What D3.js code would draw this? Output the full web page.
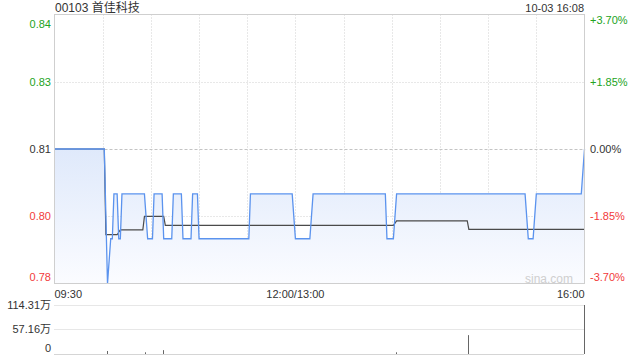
<!DOCTYPE html>
<html>
<head>
<meta charset="utf-8">
<script src="https://d3js.org/d3.v7.min.js"></script>
<style>
	body { margin: 0; background: #fff; }
	svg text { font-family: "Liberation Sans", Arial, "Noto Sans CJK SC", sans-serif; }
</style>
</head>
<body>
<svg id="chart" width="640" height="360"></svg>
<script>

// stock info
var title = "00103 首佳科技";
var stamp = "10-03 16:08";
var prevClose = 0.81;

// minutes after 09:30 (12:00 and 13:00 share minute 150) and the price there
var priceMinutes = [0, 31, 33, 35, 36, 37, 39, 40, 41, 42, 56, 58, 61, 62, 67, 68, 73, 74, 79, 80,
	85, 86, 89, 90, 121, 122, 148, 150, 159, 161, 206, 207, 211, 213, 293, 295, 298, 300, 328, 330];
var prices = [0.81, 0.81, 0.78, 0.79, 0.79, 0.80, 0.80, 0.79, 0.79, 0.80, 0.80, 0.79, 0.79, 0.80, 0.80, 0.79, 0.79, 0.80, 0.80, 0.79,
	0.79, 0.80, 0.80, 0.79, 0.79, 0.80, 0.80, 0.79, 0.79, 0.80, 0.80, 0.79, 0.79, 0.80, 0.80, 0.79, 0.79, 0.80, 0.80, 0.81];

// average price line
var avgMinutes = [0, 31, 32, 39, 41, 55, 56, 68, 69, 211, 213, 257, 258, 330];
var avgPrices = [0.81, 0.81, 0.7909, 0.7909, 0.7920, 0.7920, 0.7950, 0.7950, 0.7930, 0.7930, 0.7940, 0.7940, 0.7921, 0.7921];

// volume in 万
var volMinutes = [33, 57, 68, 213, 258, 330];
var volumes = [7, 4, 9, 4, 44, 114.31];

// axis labels
var pctTicks = [0.037, 0.0185, 0, -0.0185, -0.037];
var priceLabels = ["0.84", "0.83", "0.81", "0.80", "0.78"];
var pctLabels = ["+3.70%", "+1.85%", "0.00%", "-1.85%", "-3.70%"];
var timeTicks = [0, 150, 330];
var timeLabels = ["09:30", "12:00/13:00", "16:00"];
var volTicks = [114.31, 57.16, 0];
var volLabels = ["114.31万", "57.16万", "0"];

var svg = d3.select("#chart");
var green = "#22a322", red = "#f23a3a", dark = "#333";

var x = d3.scaleLinear().domain([0, 330]).range([54.5, 584.5]);
var y = d3.scaleLinear()
	.domain([prevClose * (1 - 0.037), prevClose * (1 + 0.037)])
	.range([283.5, 14.5]);
var yVol = d3.scaleLinear().domain([0, 114.31]).range([354, 305]);

function tickColor(p) {
	if (p > 0) return green;
	if (p < 0) return red;
	return dark;
}

// gradient for the area under the price
var grad = svg.append("defs").append("linearGradient")
	.attr("id", "fill").attr("x1", 0).attr("y1", 0).attr("x2", 0).attr("y2", 1);
grad.append("stop").attr("offset", "0%").attr("stop-color", "#dfe9fb");
grad.append("stop").attr("offset", "100%").attr("stop-color", "#fbfcff");

// grid
var grid = svg.append("g");
grid.selectAll("line.v")
	.data(d3.range(30, 330, 30))
	.enter().append("line")
		.attr("x1", function(d) {return Math.round(x(d)) + 0.5;})
		.attr("x2", function(d) {return Math.round(x(d)) + 0.5;})
		.attr("y1", 14.5).attr("y2", 283.5)
		.attr("stroke", "#d0d0d0").attr("stroke-dasharray", "1,2");
grid.selectAll("line.h")
	.data(pctTicks.slice(1, 4))
	.enter().append("line")
		.attr("x1", 54.5).attr("x2", 584.5)
		.attr("y1", function(d) {return Math.round(y(prevClose * (1 + d))) + 0.5;})
		.attr("y2", function(d) {return Math.round(y(prevClose * (1 + d))) + 0.5;})
		.attr("stroke", function(d) {return d == 0 ? "#c4c4c4" : "#d0d0d0";})
		.attr("stroke-dasharray", function(d) {return d == 0 ? "3,2" : "1,2";});

// price area and lines
var pts = priceMinutes.map(function(m, i) {return [m, prices[i]];});
svg.append("path")
	.datum(pts)
	.attr("fill", "url(#fill)")
	.attr("d", d3.area()
		.x(function(d) {return x(d[0]);})
		.y0(283.5)
		.y1(function(d) {return y(d[1]);}));

var avgPts = avgMinutes.map(function(m, i) {return [m, avgPrices[i]];});
svg.append("path")
	.datum(avgPts)
	.attr("fill", "none")
	.attr("stroke", "#4a4a4a")
	.attr("stroke-width", 1.2)
	.attr("d", d3.line().x(function(d) {return x(d[0]);}).y(function(d) {return y(d[1]);}));

svg.append("path")
	.datum(pts)
	.attr("fill", "none")
	.attr("stroke", "#5b93ee")
	.attr("stroke-width", 1.3)
	.attr("d", d3.line().x(function(d) {return x(d[0]);}).y(function(d) {return y(d[1]);}));

// frame of the price chart
svg.append("rect")
	.attr("x", 54.5).attr("y", 14.5).attr("width", 530).attr("height", 269)
	.attr("fill", "none").attr("stroke", "#cfcfcf");

svg.append("text")
	.attr("x", 573).attr("y", 283)
	.attr("text-anchor", "end")
	.attr("font-size", 12)
	.attr("fill", "#cfcfcf")
	.text("sina.com");

// left and right labels
svg.selectAll("text.price")
	.data(pctTicks)
	.enter().append("text")
		.attr("x", 51)
		.attr("y", function(d, i) {
			var yy = y(prevClose * (1 + d));
			if (i == 0) return yy + 13;
			if (i == pctTicks.length - 1) return yy - 3;
			return yy + 4;
		})
		.attr("text-anchor", "end")
		.attr("font-size", 11)
		.attr("fill", function(d) {return tickColor(d);})
		.text(function(d, i) {return priceLabels[i];});

svg.selectAll("text.pct")
	.data(pctTicks)
	.enter().append("text")
		.attr("x", 590)
		.attr("y", function(d, i) {
			var yy = y(prevClose * (1 + d));
			if (i == 0) return yy + 9;
			if (i == pctTicks.length - 1) return yy - 3;
			return yy + 4;
		})
		.attr("font-size", 11)
		.attr("fill", function(d) {return tickColor(d);})
		.text(function(d, i) {return pctLabels[i];});

// time labels
svg.selectAll("text.time")
	.data(timeTicks)
	.enter().append("text")
		.attr("x", function(d) {return x(d);})
		.attr("y", 298)
		.attr("text-anchor", function(d, i) {
			if (i == 0) return "start";
			if (i == timeTicks.length - 1) return "end";
			return "middle";
		})
		.attr("font-size", 11)
		.attr("fill", dark)
		.text(function(d, i) {return timeLabels[i];});

// title and time stamp
svg.append("text")
	.attr("x", 55).attr("y", 12)
	.attr("font-size", 12)
	.attr("fill", dark)
	.text(title);
svg.append("text")
	.attr("x", 584).attr("y", 12)
	.attr("text-anchor", "end")
	.attr("font-size", 11)
	.attr("fill", dark)
	.text(stamp);

// volume chart
svg.selectAll("line.vgrid")
	.data(volTicks)
	.enter().append("line")
		.attr("x1", 54.5).attr("x2", 584.5)
		.attr("y1", function(d) {return Math.round(yVol(d)) + 0.5;})
		.attr("y2", function(d) {return Math.round(yVol(d)) + 0.5;})
		.attr("stroke", function(d) {return d == 0 ? "#aaa" : "#cfcfcf";})
		.attr("stroke-dasharray", "1,1");

svg.selectAll("line.vol")
	.data(volMinutes)
	.enter().append("line")
		.attr("x1", function(d) {return Math.round(x(d)) - 0.5;})
		.attr("x2", function(d) {return Math.round(x(d)) - 0.5;})
		.attr("y1", yVol(0))
		.attr("y2", function(d, i) {return yVol(volumes[i]);})
		.attr("stroke", "#666");

svg.selectAll("text.vol")
	.data(volTicks)
	.enter().append("text")
		.attr("x", 51)
		.attr("y", function(d, i) {
			if (i == volTicks.length - 1) return yVol(d) - 2;
			return yVol(d) + 4;
		})
		.attr("text-anchor", "end")
		.attr("font-size", 11)
		.attr("fill", dark)
		.text(function(d, i) {return volLabels[i];});

</script>
</body>
</html>
